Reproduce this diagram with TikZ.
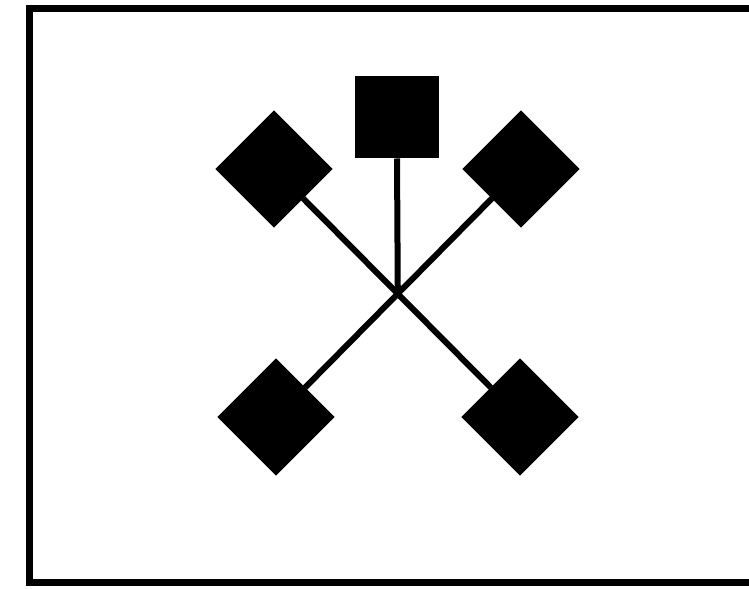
\documentclass[tikz,border=0pt]{standalone}
\begin{document}
\begin{tikzpicture}[x=0.02cm, y=-0.02cm]
        \tikzset{
            frameline/.style={draw=black, line width=0.14cm},
            pole/.style={draw=black, line width=0.12cm},
            flagbox/.style={fill=black, minimum size=1.66cm, inner sep=0pt, outer sep=0pt},
            diamondflag/.style={flagbox, rotate=45}
        }

        \useasboundingbox (0,0) rectangle (749,588);
        \clip (0,0) rectangle (749,588);
        \draw[frameline] (760,9) -- (29,9) -- (29,582) -- (760,582);

        \node[flagbox, minimum width=1.68cm] (top) at (397,117) {};
        \node[diamondflag] (ul) at (274,169) {};
        \node[diamondflag] (ur) at (521,169) {};
        \node[diamondflag] (ll) at (276,417) {};
        \node[diamondflag] (lr) at (520,417) {};
        \coordinate (hub) at (intersection of ul--lr and ur--ll);

        \draw[pole] (top.south) -- (hub);
        \draw[pole] (ul) -- (lr);
        \draw[pole] (ur) -- (ll);
    \end{tikzpicture}
\end{document}
